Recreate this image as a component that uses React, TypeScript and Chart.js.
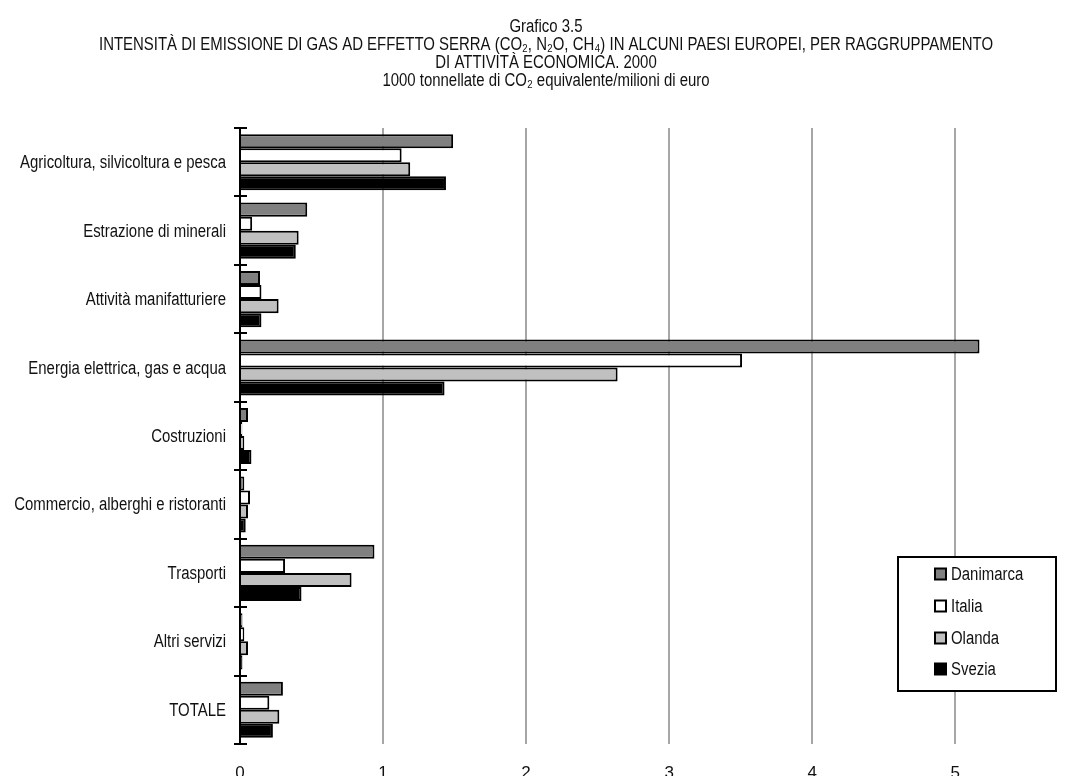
import React, { useEffect, useRef } from "react";
import { Chart, registerables } from "chart.js";

Chart.register(...registerables);

const titleLines = [
  "Grafico 3.5",
  "INTENSITÀ DI EMISSIONE DI GAS AD EFFETTO SERRA (CO₂, N₂O, CH₄) IN ALCUNI PAESI EUROPEI, PER RAGGRUPPAMENTO",
  "DI ATTIVITÀ ECONOMICA. 2000",
  "1000 tonnellate di CO₂ equivalente/milioni di euro",
];

const categories = [
  "Agricoltura, silvicoltura e pesca",
  "Estrazione di minerali",
  "Attività manifatturiere",
  "Energia elettrica, gas e acqua",
  "Costruzioni",
  "Commercio, alberghi e ristoranti",
  "Trasporti",
  "Altri servizi",
  "TOTALE",
];

const seriesNames = ["Danimarca", "Italia", "Olanda", "Svezia"];
const seriesColors = ["#808080", "#ffffff", "#c0c0c0", "#000000"];

const danimarca = [1.49, 0.47, 0.14, 5.17, 0.056, 0.03, 0.94, 0.017, 0.3];
const italia = [1.13, 0.085, 0.15, 3.51, 0.016, 0.07, 0.315, 0.03, 0.205];
const olanda = [1.19, 0.41, 0.27, 2.64, 0.03, 0.056, 0.78, 0.056, 0.275];
const svezia = [1.44, 0.39, 0.15, 1.43, 0.08, 0.04, 0.43, 0.017, 0.23];

const xMin = 0;
const xMax = 5.6;
const xStep = 1;

const FONT = "'Liberation Sans', Arial, sans-serif";
const NARROW = 0.83;
const TEXT = "#111111";

function narrowText(ctx: any, text: string, x: number, y: number, align: string, size: number) {
  ctx.save();
  ctx.font = `${size}px ${FONT}`;
  ctx.fillStyle = TEXT;
  ctx.textBaseline = "middle";
  ctx.textAlign = align;
  ctx.translate(x, y);
  ctx.scale(NARROW, 1);
  ctx.fillText(text, 0, 0);
  ctx.restore();
}

const titleBlock = {
  id: "titleBlock",
  afterDraw(chart: any) {
    const { ctx, width } = chart;
    titleLines.forEach((line, i) => {
      narrowText(ctx, line, width / 2, 19 + i * 18, "center", 18);
    });
  },
};

const categoryLabels = {
  id: "categoryLabels",
  afterDraw(chart: any) {
    const { ctx, chartArea } = chart;
    const yScale = chart.scales.y;
    categories.forEach((c, i) => {
      narrowText(ctx, c, chartArea.left - 14, yScale.getPixelForValue(i) + 1, "right", 18);
    });
  },
};

const crossTicks = {
  id: "crossTicks",
  afterDraw(chart: any) {
    const { ctx, chartArea } = chart;
    const { left, top, bottom } = chartArea;
    const n = categories.length;
    const step = (bottom - top) / n;
    ctx.save();
    ctx.strokeStyle = "#000";
    ctx.lineWidth = 2;
    for (let i = 0; i <= n; i++) {
      const y = Math.round(top + i * step);
      ctx.beginPath();
      ctx.moveTo(left - 6, y);
      ctx.lineTo(left + 7, y);
      ctx.stroke();
    }
    ctx.restore();
  },
};

const boxLegend = {
  id: "boxLegend",
  afterDraw(chart: any) {
    const { ctx } = chart;
    const bx = 890;
    const by = 549;
    const bw = 158;
    const bh = 134;
    ctx.save();
    ctx.fillStyle = "#ffffff";
    ctx.fillRect(bx, by, bw, bh);
    ctx.strokeStyle = "#000";
    ctx.lineWidth = 2;
    ctx.strokeRect(bx, by, bw, bh);
    const ys = [566, 598, 630, 661];
    chart.data.datasets.forEach((ds: any, i: number) => {
      const y = ys[i];
      ctx.fillStyle = ds.backgroundColor;
      ctx.fillRect(927, y - 5.5, 11, 11);
      ctx.strokeStyle = "#000";
      ctx.lineWidth = 2;
      ctx.strokeRect(927, y - 5.5, 11, 11);
      narrowText(ctx, ds.label, 943, y + 1, "left", 18);
    });
    ctx.restore();
  },
};

export default function App() {
  const ref = useRef<HTMLCanvasElement>(null);

  useEffect(() => {
    const values = [danimarca, italia, olanda, svezia];
    const chart = new Chart(ref.current as HTMLCanvasElement, {
      type: "bar",
      data: {
        labels: categories,
        datasets: seriesNames.map((name, i) => ({
          label: name,
          data: values[i],
          backgroundColor: seriesColors[i],
          borderColor: "#000000",
          borderWidth: 2,
          borderSkipped: "start",
          categoryPercentage: 0.82,
          barPercentage: 1.0,
        })),
      },
      options: {
        indexAxis: "y",
        responsive: false,
        animation: false,
        devicePixelRatio: 1,
        layout: { padding: { left: 0, right: 43, top: 120, bottom: 4 } },
        plugins: {
          legend: { display: false },
          tooltip: { enabled: false },
          title: { display: false },
        },
        scales: {
          x: {
            type: "linear",
            min: xMin,
            max: xMax,
            position: "bottom",
            ticks: {
              stepSize: xStep,
              includeBounds: false,
              padding: 19,
              color: TEXT,
              font: { family: FONT, size: 17 },
            },
            grid: {
              color: (c: any) => (c.tick && c.tick.value === 0 ? "rgba(0,0,0,0)" : "#a6a6a6"),
              lineWidth: 2,
              drawTicks: false,
            },
            border: { display: false },
            afterFit: (s: any) => {
              s.height = 40;
            },
          },
          y: {
            type: "category",
            ticks: { display: false },
            grid: { display: false, drawTicks: false },
            border: { display: true, color: "#000000", width: 2 },
            afterFit: (s: any) => {
              s.width = 232;
            },
          },
        },
      },
      plugins: [crossTicks, categoryLabels, titleBlock, boxLegend],
    } as any);
    return () => chart.destroy();
  }, []);

  return (
    <div style={{ width: 1076, height: 780 }}>
      <canvas ref={ref} width={1076} height={780} style={{ display: "block" }} />
    </div>
  );
}
